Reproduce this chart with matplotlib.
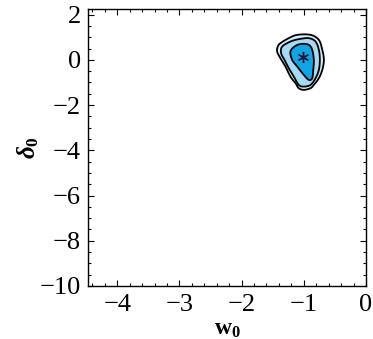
import numpy as np
import matplotlib
matplotlib.use("Agg")
import matplotlib.pyplot as plt
from matplotlib.ticker import MultipleLocator

plt.rcParams['font.family'] = ['Liberation Serif', 'DejaVu Serif']
plt.rcParams['mathtext.fontset'] = 'custom'
plt.rcParams['mathtext.rm'] = 'Liberation Serif'
plt.rcParams['mathtext.it'] = 'Liberation Serif:italic:bold'
plt.rcParams['mathtext.bf'] = 'Liberation Serif:bold'

# contour outlines (w0, delta0)
outer_w = [-1.106, -0.892, -0.758, -0.703, -0.677, -0.703, -0.758, -0.839, -0.892, -1.000,
           -1.081, -1.134, -1.215, -1.295, -1.376, -1.429, -1.419, -1.376, -1.242]
outer_d = [1.106, 1.106, 0.885, 0.442, 0.000, -0.442, -0.810, -1.106, -1.252, -1.327,
           -1.252, -1.031, -0.739, -0.296, 0.075, 0.367, 0.588, 0.739, 0.960]
mid_w = [-1.348, -1.215, -1.081, -0.919, -0.811, -0.758, -0.742, -0.758, -0.811, -0.892,
         -1.000, -1.081, -1.161, -1.242, -1.311, -1.365]
mid_d = [0.588, 0.810, 0.916, 0.960, 0.810, 0.442, 0.000, -0.442, -0.810, -1.106,
         -1.181, -1.106, -0.739, -0.367, 0.000, 0.296]
inner_w = [-1.215, -1.134, -1.026, -0.919, -0.865, -0.839, -0.848, -0.865, -0.919, -1.000,
           -1.106, -1.187]
inner_d = [0.367, 0.619, 0.708, 0.664, 0.442, 0.000, -0.442, -0.810, -0.885, -0.664,
           -0.296, 0.000]
best_w = [-1.02]
best_d = [0.13]


def smooth_closed(xs, ys, n=20):
    x = np.asarray(xs); y = np.asarray(ys)
    m = len(x)
    out_x, out_y = [], []
    for i in range(m):
        p0, p1, p2, p3 = [(x[(i + k) % m], y[(i + k) % m]) for k in (-1, 0, 1, 2)]
        t = np.linspace(0, 1, n, endpoint=False)
        for a in range(2):
            c0, c1, c2, c3 = p0[a], p1[a], p2[a], p3[a]
            v = 0.5 * ((2 * c1) + (-c0 + c2) * t + (2 * c0 - 5 * c1 + 4 * c2 - c3) * t**2
                       + (-c0 + 3 * c1 - 3 * c2 + c3) * t**3)
            (out_x if a == 0 else out_y).append(v)
    return np.concatenate(out_x), np.concatenate(out_y)


fig = plt.figure(figsize=(3.73, 3.39), dpi=100)
ax = fig.add_axes([88 / 373, 1 - 286 / 339, (366 - 88) / 373, (286 - 9) / 339])

for (xs, ys, col) in [(outer_w, outer_d, '#d6eefa'), (mid_w, mid_d, '#a6daf4'),
                      (inner_w, inner_d, '#12a5e6')]:
    sx, sy = smooth_closed(xs, ys)
    ax.fill(sx, sy, facecolor=col, edgecolor='black', linewidth=1.3, zorder=2)

ax.plot(best_w, best_d, marker=(6, 2, 0), color='#1a1a3a', markersize=8, mew=1.0,
        linestyle='none', zorder=3)

ax.set_xlim(-4.47, 0)
ax.set_ylim(-10, 2.25)
ax.xaxis.set_major_locator(MultipleLocator(1))
ax.xaxis.set_minor_locator(MultipleLocator(0.2))
ax.yaxis.set_major_locator(MultipleLocator(2))
ax.yaxis.set_minor_locator(MultipleLocator(0.5))
ax.tick_params(which='both', direction='in', top=True, right=True, labelsize=19,
               width=0.8)
ax.tick_params(axis='y', pad=5)
ax.tick_params(axis='x', pad=6)
ax.tick_params(which='major', length=4)
ax.tick_params(which='minor', length=2)
for s in ax.spines.values():
    s.set_linewidth(1.0)

ax.set_xlabel(r'$\mathbf{w_0}$', fontsize=17, labelpad=2)
ax.set_ylabel(r'$\delta_\mathbf{0}$', fontsize=18, labelpad=-1)

fig.savefig('out.png', dpi=100)
